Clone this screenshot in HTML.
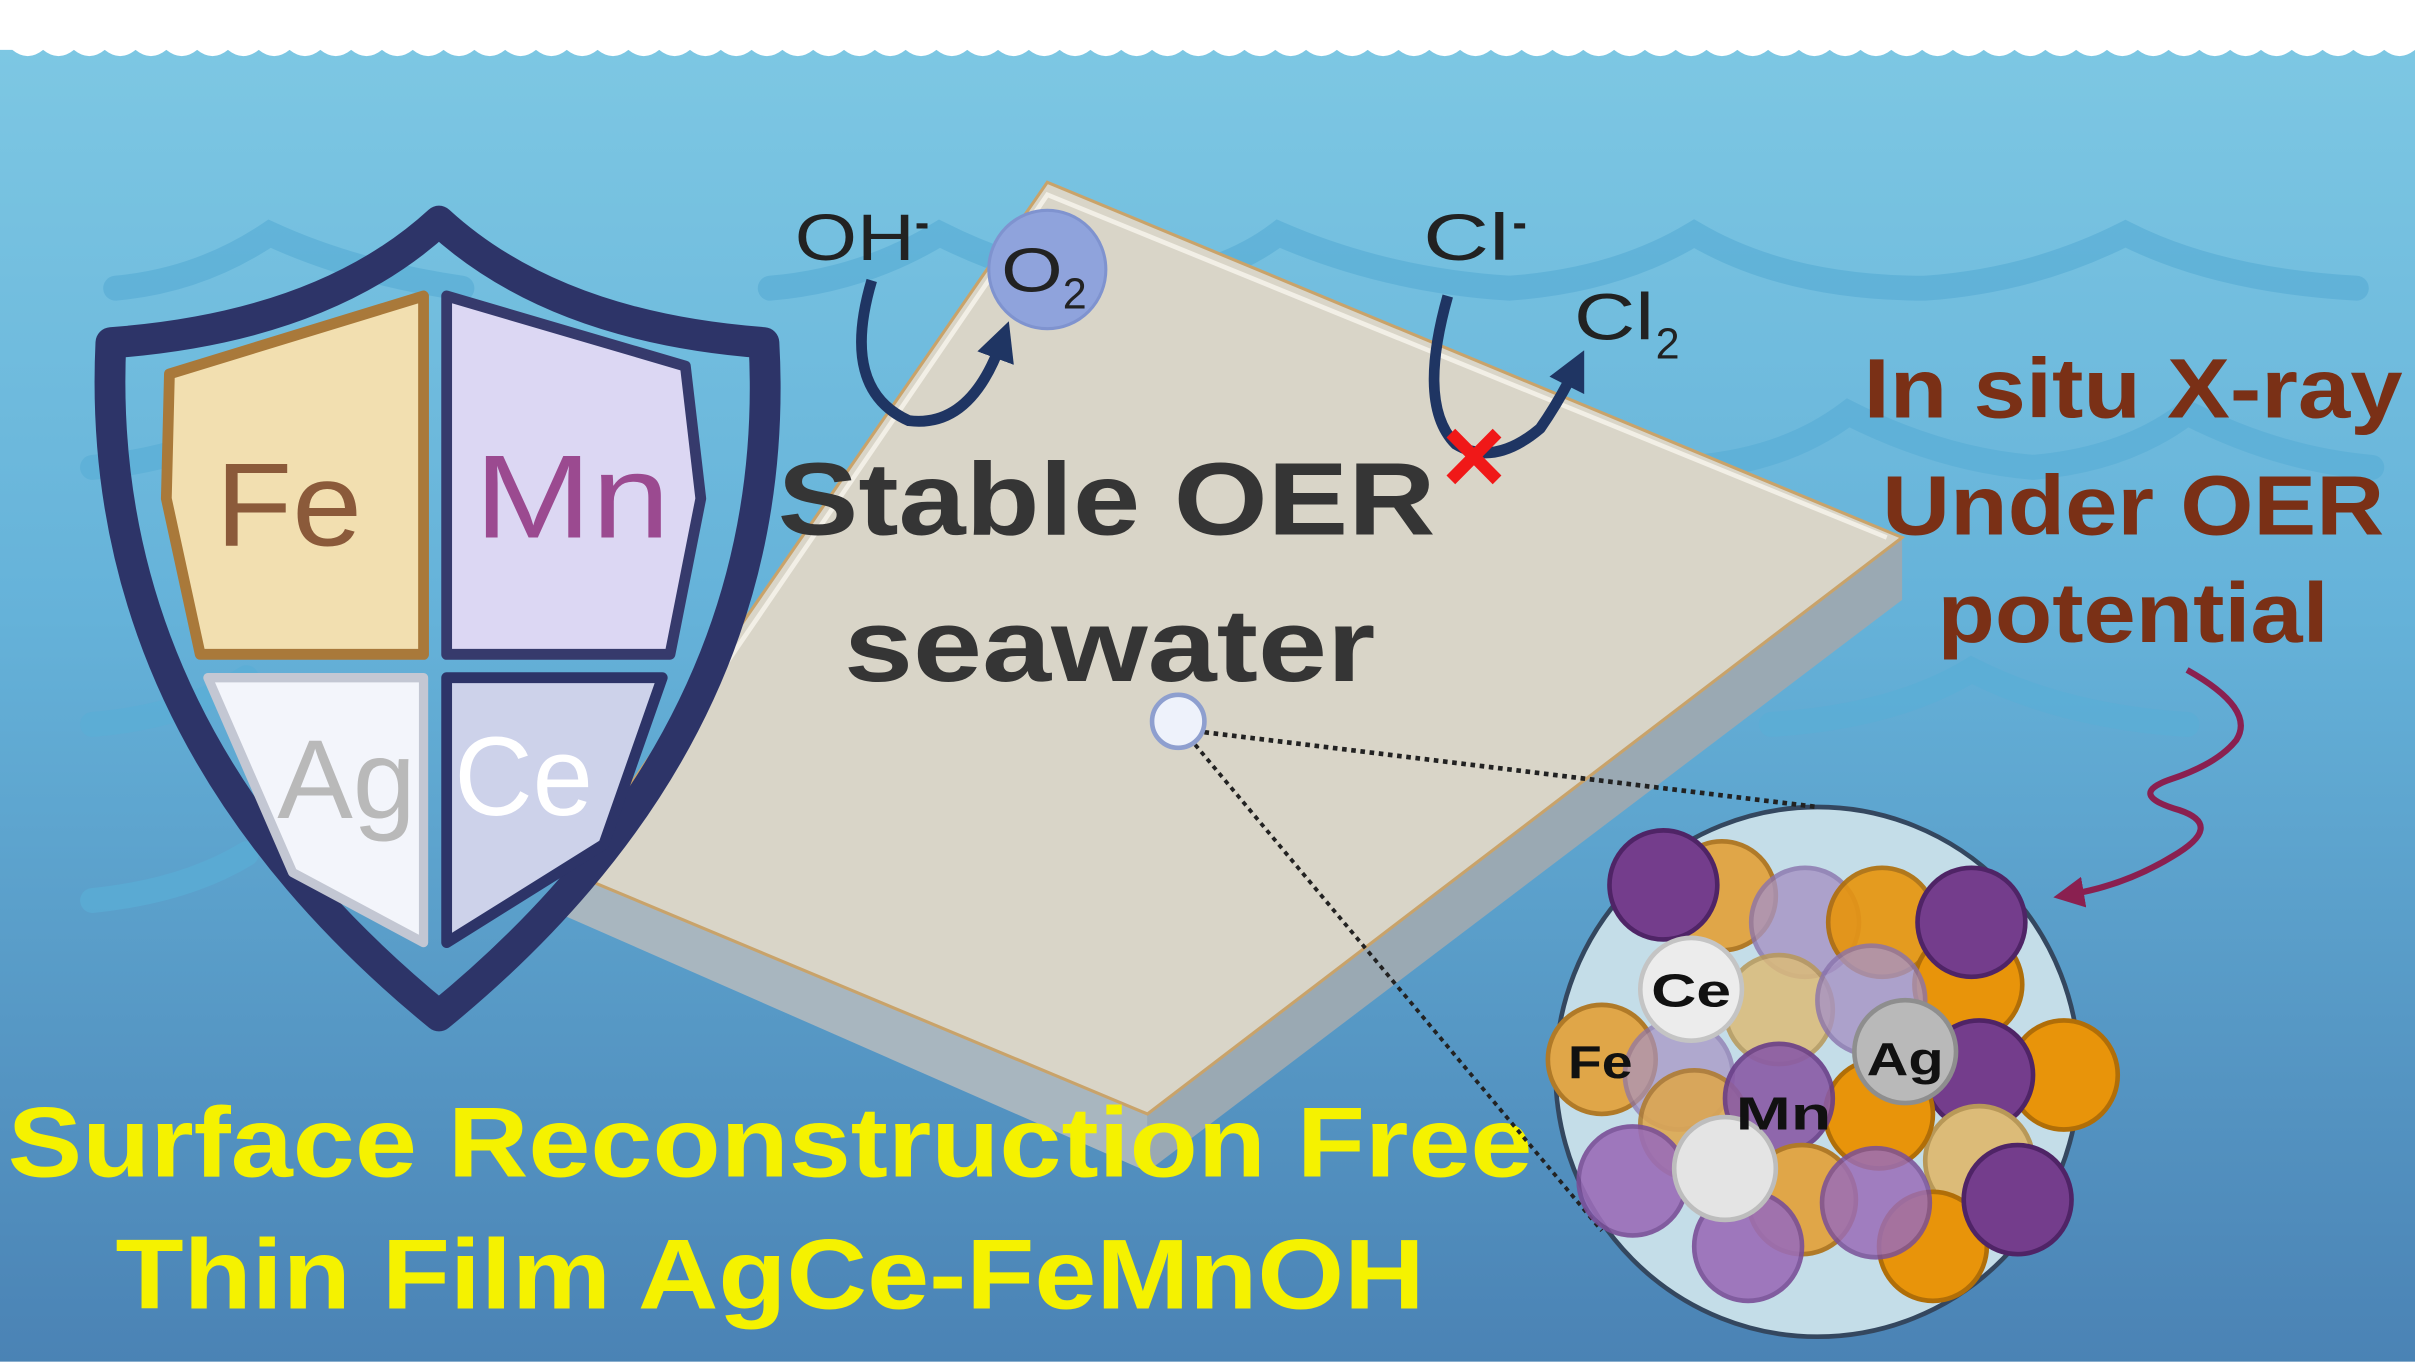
<!DOCTYPE html>
<html><head><meta charset="utf-8"><style>html,body{margin:0;padding:0;overflow:hidden}svg{display:block}</style></head>
<body>
<svg width="2415" height="1371" viewBox="0 0 1568 880" preserveAspectRatio="none" xmlns="http://www.w3.org/2000/svg" font-family="Liberation Sans, Arial, sans-serif">
<defs>
<linearGradient id="bg" x1="0" y1="0" x2="0" y2="1">
<stop offset="0" stop-color="#7fc9e4"/><stop offset="0.45" stop-color="#65b2d9"/><stop offset="1" stop-color="#4a82b4"/>
</linearGradient>
<marker id="ah" markerWidth="3.6" markerHeight="3.6" refX="1.5" refY="1.8" orient="auto" markerUnits="strokeWidth"><path d="M0,0 L3.6,1.8 L0,3.6 z" fill="#1f3563"/></marker>
<marker id="ar" markerWidth="5" markerHeight="5" refX="2" refY="2.5" orient="auto" markerUnits="strokeWidth"><path d="M0,0 L5,2.5 L0,5 z" fill="#8a2050"/></marker>
</defs>
<rect width="1568" height="880" fill="url(#bg)"/>
<rect y="874" width="1568" height="6" fill="#fff"/>
<path d="M0,0 H1568 V32 Q1558,40 1548,32 Q1538,40 1528,32 Q1518,40 1508,32 Q1498,40 1488,32 Q1478,40 1468,32 Q1458,40 1448,32 Q1438,40 1428,32 Q1418,40 1408,32 Q1398,40 1388,32 Q1378,40 1368,32 Q1358,40 1348,32 Q1338,40 1328,32 Q1318,40 1308,32 Q1298,40 1288,32 Q1278,40 1268,32 Q1258,40 1248,32 Q1238,40 1228,32 Q1218,40 1208,32 Q1198,40 1188,32 Q1178,40 1168,32 Q1158,40 1148,32 Q1138,40 1128,32 Q1118,40 1108,32 Q1098,40 1088,32 Q1078,40 1068,32 Q1058,40 1048,32 Q1038,40 1028,32 Q1018,40 1008,32 Q998,40 988,32 Q978,40 968,32 Q958,40 948,32 Q938,40 928,32 Q918,40 908,32 Q898,40 888,32 Q878,40 868,32 Q858,40 848,32 Q838,40 828,32 Q818,40 808,32 Q798,40 788,32 Q778,40 768,32 Q758,40 748,32 Q738,40 728,32 Q718,40 708,32 Q698,40 688,32 Q678,40 668,32 Q658,40 648,32 Q638,40 628,32 Q618,40 608,32 Q598,40 588,32 Q578,40 568,32 Q558,40 548,32 Q538,40 528,32 Q518,40 508,32 Q498,40 488,32 Q478,40 468,32 Q458,40 448,32 Q438,40 428,32 Q418,40 408,32 Q398,40 388,32 Q378,40 368,32 Q358,40 348,32 Q338,40 328,32 Q318,40 308,32 Q298,40 288,32 Q278,40 268,32 Q258,40 248,32 Q238,40 228,32 Q218,40 208,32 Q198,40 188,32 Q178,40 168,32 Q158,40 148,32 Q138,40 128,32 Q118,40 108,32 Q98,40 88,32 Q78,40 68,32 Q58,40 48,32 Q38,40 28,32 Q18,40 8,32 L0,32 Z" fill="#fff"/>
<g fill="none" stroke="#5aaed6" stroke-width="16" stroke-linecap="round" opacity="0.7">
<path d="M75,185 Q130,180 175,150 Q230,175 300,185 M500,185 Q560,180 610,150 Q660,175 720,185 Q790,180 830,150 Q900,180 980,185 Q1050,180 1100,150 Q1160,185 1250,185 Q1320,180 1380,150 Q1440,180 1530,185"/>
<path d="M60,300 Q120,295 160,270 M1100,300 Q1160,295 1200,265 Q1260,295 1320,300 Q1380,295 1420,265 Q1480,295 1540,300"/>
<path d="M60,465 Q120,460 160,435 M1150,465 Q1230,460 1280,430 Q1340,460 1420,465"/>
<path d="M60,578 Q120,572 160,548"/>
</g>
<polygon points="370,560 745,715 745,752 360,585" fill="#a8b6bf"/>
<polygon points="745,715 1235,345 1235,385 745,752" fill="#9aa9b3"/>
<polygon points="680,117 1235,345 745,715 370,560" fill="#d9d5c8" stroke="#c9a36a" stroke-width="2"/>
<polyline points="380,558 680,125 1225,345" fill="none" stroke="#f2efe6" stroke-width="3"/>
<path d="M285,142 Q210,210 72,220 Q60,470 285,652 Q510,470 496,220 Q360,210 285,142 Z" fill="none" stroke="#2d3468" stroke-width="20" stroke-linejoin="round"/>
<polygon points="110,240 275,190 275,420 130,420 108,320" fill="#f2dfb0" stroke="#a9793a" stroke-width="7" stroke-linejoin="round"/>
<polygon points="290,190 445,235 455,320 435,420 290,420" fill="#dcd7f3" stroke="#363a6c" stroke-width="7" stroke-linejoin="round"/>
<polygon points="135,435 275,435 275,605 190,560" fill="#f3f5fb" stroke="#c3c7d3" stroke-width="6" stroke-linejoin="round"/>
<polygon points="290,435 430,435 392,542 290,605" fill="#cdd2ea" stroke="#2d3468" stroke-width="7" stroke-linejoin="round"/>
<text x="140" y="350" font-size="76" fill="#8b5a3a" textLength="95" lengthAdjust="spacingAndGlyphs">Fe</text>
<text x="308" y="345" font-size="76" fill="#9b4a90" textLength="127" lengthAdjust="spacingAndGlyphs">Mn</text>
<text x="180" y="525" font-size="72" fill="#b9b9b9" textLength="90" lengthAdjust="spacingAndGlyphs">Ag</text>
<text x="295" y="523" font-size="72" fill="#ffffff" textLength="90" lengthAdjust="spacingAndGlyphs">Ce</text>
<text x="516" y="167" font-size="42" fill="#222" textLength="78" lengthAdjust="spacingAndGlyphs">OH</text>
<text x="594" y="152" font-size="28" fill="#222" font-weight="bold">-</text>
<circle cx="680" cy="173" r="38" fill="#8fa3dc" stroke="#7f93cf" stroke-width="2"/>
<text x="650" y="187" font-size="40" fill="#222" textLength="40" lengthAdjust="spacingAndGlyphs">O</text>
<text x="690" y="198" font-size="28" fill="#222">2</text>
<path d="M566,180 Q545,250 590,270 Q630,275 650,220" fill="none" stroke="#1f3563" stroke-width="7" marker-end="url(#ah)"/>
<text x="924" y="167" font-size="42" fill="#222" textLength="56" lengthAdjust="spacingAndGlyphs">Cl</text>
<text x="982" y="152" font-size="28" fill="#222" font-weight="bold">-</text>
<text x="1022" y="218" font-size="42" fill="#222" textLength="52" lengthAdjust="spacingAndGlyphs">Cl</text>
<text x="1075" y="230" font-size="28" fill="#222">2</text>
<path d="M940,190 Q920,260 945,285 Q970,300 1000,275 Q1012,258 1022,238" fill="none" stroke="#1f3563" stroke-width="7" marker-end="url(#ah)"/>
<g stroke="#f01818" stroke-width="8"><line x1="942" y1="278" x2="972" y2="308"/><line x1="972" y1="278" x2="942" y2="308"/></g>
<text x="505" y="343" font-size="66" font-weight="bold" fill="#353535" textLength="427" lengthAdjust="spacingAndGlyphs">Stable OER</text>
<text x="548" y="437" font-size="66" font-weight="bold" fill="#353535" textLength="345" lengthAdjust="spacingAndGlyphs">seawater</text>
<g font-weight="bold" fill="#7a3016" font-size="54">
<text x="1210" y="268" textLength="350" lengthAdjust="spacingAndGlyphs">In situ X-ray</text>
<text x="1222" y="343" textLength="326" lengthAdjust="spacingAndGlyphs">Under OER</text>
<text x="1258" y="412" textLength="254" lengthAdjust="spacingAndGlyphs">potential</text>
</g>
<g font-weight="bold" fill="#f5f200" font-size="64">
<text x="5" y="755" textLength="990" lengthAdjust="spacingAndGlyphs">Surface Reconstruction Free</text>
<text x="75" y="840" textLength="850" lengthAdjust="spacingAndGlyphs">Thin Film AgCe-FeMnOH</text>
</g>
<path d="M1420,430 Q1465,455 1452,475 Q1440,490 1410,500 Q1380,510 1415,520 Q1445,530 1410,550 Q1380,568 1345,574" fill="none" stroke="#8a2050" stroke-width="4" marker-end="url(#ar)"/>
<circle cx="1180" cy="688" r="170" fill="#c4dde8" stroke="#34475f" stroke-width="3"/>
<line x1="782" y1="470" x2="1180" y2="518" stroke="#222" stroke-width="3" stroke-dasharray="3,3"/>
<line x1="776" y1="478" x2="1040" y2="790" stroke="#222" stroke-width="2.5" stroke-dasharray="3,3"/>
<circle cx="765" cy="463" r="17" fill="#eef2fb" stroke="#8e9fcf" stroke-width="3"/>
<g stroke-width="3">
<circle cx="1118" cy="575" r="35" fill="#e0a648" stroke="#b07a28"/>
<circle cx="1080" cy="568" r="35" fill="#743d8c" stroke="#4f2466"/>
<circle cx="1172" cy="592" r="35" fill="#a793c4" stroke="#8a73ad" opacity="0.8"/>
<circle cx="1222" cy="592" r="35" fill="#e8940a" stroke="#b06e08" opacity="0.9"/>
<circle cx="1278" cy="632" r="35" fill="#e8940a" stroke="#b06e08"/>
<circle cx="1280" cy="592" r="35" fill="#743d8c" stroke="#4f2466"/>
<circle cx="1155" cy="648" r="35" fill="#dcbb78" stroke="#b89858" opacity="0.85"/>
<circle cx="1215" cy="642" r="35" fill="#a793c4" stroke="#8a73ad" opacity="0.8"/>
<circle cx="1040" cy="680" r="35" fill="#e0a648" stroke="#b07a28"/>
<circle cx="1090" cy="690" r="35" fill="#a793c4" stroke="#8a73ad" opacity="0.7"/>
<circle cx="1340" cy="690" r="35" fill="#e8940a" stroke="#b06e08"/>
<circle cx="1285" cy="690" r="35" fill="#743d8c" stroke="#4f2466"/>
<circle cx="1285" cy="745" r="35" fill="#dcbb78" stroke="#b89858"/>
<circle cx="1100" cy="722" r="35" fill="#e0a648" stroke="#b07a28" opacity="0.85"/>
<circle cx="1220" cy="715" r="35" fill="#e8940a" stroke="#b06e08"/>
<circle cx="1155" cy="705" r="35" fill="#8a5ba6" stroke="#6a3e88" opacity="0.9"/>
<circle cx="1170" cy="770" r="35" fill="#e0a648" stroke="#b07a28"/>
<circle cx="1060" cy="758" r="35" fill="#9a6db8" stroke="#7a4f98" opacity="0.9"/>
<circle cx="1135" cy="800" r="35" fill="#9a6db8" stroke="#7a4f98" opacity="0.9"/>
<circle cx="1255" cy="800" r="35" fill="#e8940a" stroke="#b06e08"/>
<circle cx="1218" cy="772" r="35" fill="#9a6db8" stroke="#7a4f98" opacity="0.85"/>
<circle cx="1310" cy="770" r="35" fill="#743d8c" stroke="#4f2466"/>
<circle cx="1120" cy="750" r="33" fill="#e4e4e4" stroke="#bdbdbd"/>
<circle cx="1098" cy="635" r="33" fill="#ececec" stroke="#c4c4c4"/>
<circle cx="1237" cy="675" r="33" fill="#b9b9b9" stroke="#8e8e8e"/>
</g>
<g font-weight="bold" fill="#111" font-size="30">
<text x="1072" y="646" textLength="52" lengthAdjust="spacingAndGlyphs">Ce</text>
<text x="1018" y="692" textLength="42" lengthAdjust="spacingAndGlyphs">Fe</text>
<text x="1212" y="690" textLength="50" lengthAdjust="spacingAndGlyphs">Ag</text>
<text x="1127" y="725" textLength="62" lengthAdjust="spacingAndGlyphs">Mn</text>
</g>
</svg>
</body></html>
